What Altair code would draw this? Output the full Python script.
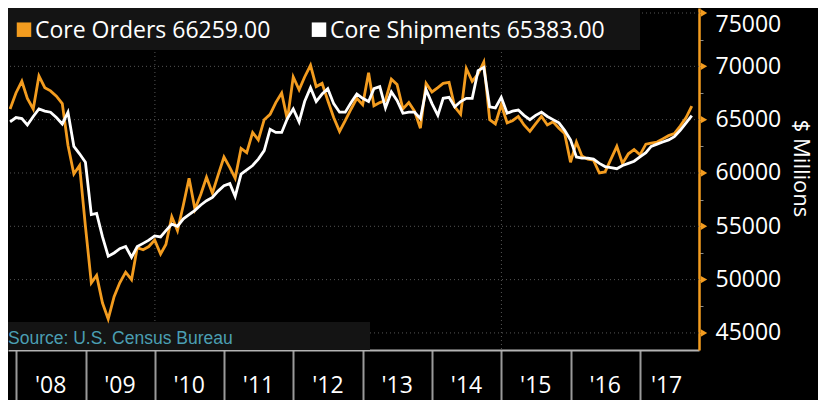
import altair as alt
import pandas as pd

# ---------------- data ----------------
series_names = ["Core Orders", "Core Shipments"]
series_colors = ["#f39c1f", "#ffffff"]
start_month = "2007-11-01"  # monthly values, plotted at month end

orders = [66000, 67500, 68600, 67000, 66000, 69100, 68000, 67700, 67200, 66500,
          62600, 59900, 60700, 55000, 49700, 50400, 47800, 46300, 48400, 49700,
          50700, 50000, 53000, 52800, 53100, 53700, 52400, 53300, 55900, 54600,
          57000, 59500, 56600, 58000, 59600, 58100, 59800, 61500, 60500, 59500,
          62300, 61900, 63800, 63100, 65000, 65500, 66600, 67500, 65000, 69000,
          67800, 69000, 70100, 68100, 68400, 66800, 65200, 63900, 64900, 66000,
          67000, 66400, 69400, 66300, 66600, 66800, 68800, 68300, 66000, 66600,
          65800, 64200, 68400, 67600, 68000, 68400, 68500, 66200, 65500, 69800,
          68600, 69300, 70400, 65000, 64600, 66400, 64700, 64900, 65300, 64500,
          63900, 64600, 65300, 64500, 64800, 64200, 63700, 61000, 62900, 61600,
          61300, 61200, 60000, 60100, 61300, 62500, 60900, 61800, 62200, 61700,
          62700, 62800, 62900, 63200, 63500, 63700, 64400, 65200, 66259]

shipments = [64800, 65200, 65100, 64500, 65300, 66000, 65800, 65700, 65200, 64600,
             65700, 62500, 61800, 61000, 56100, 56200, 54000, 52200, 52500, 52900,
             53100, 52100, 53100, 53400, 53700, 54100, 54000, 54600, 55200, 55000,
             55700, 56100, 56500, 57000, 57400, 57700, 58300, 58800, 59000, 57800,
             59900, 60300, 60700, 61300, 62100, 64100, 63800, 63800, 65100, 66000,
             64800, 66700, 68000, 66700, 67400, 67900, 66500, 65700, 65700, 66600,
             67400, 67000, 66700, 67900, 68100, 66100, 67600, 66800, 65600, 65700,
             65700, 65100, 67800, 66500, 65400, 67000, 67100, 66200, 66700, 67000,
             67000, 69600, 69900, 66200, 66100, 67100, 65600, 65800, 65900, 65400,
             65000, 65400, 65700, 65300, 65000, 64700, 64000, 63100, 61500, 61400,
             61400, 61300, 60900, 60600, 60500, 60400, 60700, 60900, 61100, 61500,
             61900, 62500, 62700, 62900, 63100, 63400, 64000, 64700, 65383]

y_major = [45000, 50000, 55000, 60000, 65000, 70000, 75000]
y_ticks_all = [45000, 47500, 50000, 52500, 55000, 57500, 60000, 62500,
               65000, 67500, 70000, 72500, 75000]
tick_years = [2008, 2009, 2010, 2011, 2012, 2013, 2014, 2015, 2016, 2017]
grid_dates = ["2010-01-01", "2015-01-01"]
year_label_dates = ["2008-07-01", "2009-07-01", "2010-07-01", "2011-07-01",
                    "2012-07-01", "2013-07-01", "2014-07-01", "2015-07-01",
                    "2016-07-01", "2017-05-20"]
year_labels = ["'08", "'09", "'10", "'11", "'12", "'13", "'14", "'15", "'16", "'17"]
source_text = "Source: U.S. Census Bureau"
y_title = "$ Millions"

# ---------------- tables ----------------
dates = pd.date_range(start_month, periods=len(orders), freq="MS") + pd.offsets.MonthEnd(0)
df = pd.DataFrame({"date": dates.strftime("%Y-%m-%d"),
                   "orders": orders, "shipments": shipments})

W, H = 691, 342
FONT = "Open Sans"

x_scale = alt.Scale(type="utc", domain=[
    alt.DateTime(year=2007, month=11, date=19, utc=True),
    alt.DateTime(year=2017, month=11, date=7, utc=True)])
y_scale = alt.Scale(domain=[43400, 75470], nice=False, zero=False)

one = pd.DataFrame({"a": [0]})

x_axis = alt.Axis(
    values=[alt.DateTime(year=y, month=1, date=1, utc=True) for y in tick_years],
    labels=False, title=None, grid=False, orient="bottom",
    domainColor="#b4b4b4", domainWidth=2,
    tickColor="#9a9a9a", tickWidth=2, tickSize=50)

y_axis = alt.Axis(
    orient="right", values=y_ticks_all, format="d",
    labelExpr="datum.value % 5000 == 0 ? datum.label : ''",
    labelColor="white", labelFont=FONT, labelFontSize=23, labelPadding=12,
    labelFlush=10, labelOverlap=False,
    tickColor="#8a8a8a", tickSize=4, tickWidth=1,
    domainColor=series_colors[0], domainWidth=2.5, grid=False,
    title=y_title, titleColor="white", titleFont=FONT, titleFontSize=22,
    titleFontWeight="normal", titlePadding=8, titleAngle=90, titleY=160)


def X(field):
    return alt.X(field, scale=x_scale, axis=x_axis)


def Y(field):
    return alt.Y(field, scale=y_scale, axis=y_axis)


hgrid = alt.Chart(pd.DataFrame({"v": y_major})).mark_rule(
    color="#555555", strokeDash=[1, 3], strokeWidth=1
).encode(y=Y("v:Q"))

vgrid = alt.Chart(pd.DataFrame({"d": grid_dates})).mark_rule(
    color="#555555", strokeDash=[1, 3], strokeWidth=1
).encode(x=X("d:T"))

legend_box = alt.Chart(one).mark_rect(color="#141414").encode(
    x=alt.value(0), x2=alt.value(632), y=alt.value(0), y2=alt.value(42))
source_box = alt.Chart(one).mark_rect(color="#141414").encode(
    x=alt.value(0), x2=alt.value(362), y=alt.value(314), y2=alt.value(H))

orders_line = alt.Chart(df).mark_line(color=series_colors[0], strokeWidth=2.8).encode(
    x=X("date:T"), y=Y("orders:Q"))

ship_line = alt.Chart(df).mark_line(color=series_colors[1], strokeWidth=2.8).encode(
    x=X("date:T"), y=Y("shipments:Q"))

triangles = alt.Chart(pd.DataFrame({"v": y_major})).mark_point(
    shape="triangle-right", filled=True, color=series_colors[0], size=55, opacity=1
).encode(x=alt.value(W + 5), y=Y("v:Q"))

year_text = alt.Chart(pd.DataFrame({"d": year_label_dates, "t": year_labels})).mark_text(
    align="center", baseline="alphabetic", font=FONT, fontSize=23, color="white"
).encode(x=X("d:T"), y=alt.value(H + 43), text="t:N")

legend_items = []
leg_x = [16, 311]
for i, (nm, col, vals) in enumerate(zip(series_names, series_colors, [orders, shipments])):
    legend_items.append(alt.Chart(one).mark_square(size=210, color=col, opacity=1).encode(
        x=alt.value(leg_x[i]), y=alt.value(21.7)))
    legend_items.append(alt.Chart(one).mark_text(
        align="left", baseline="alphabetic", font=FONT, fontSize=23, color="white"
    ).encode(x=alt.value(leg_x[i] + 11), y=alt.value(29.5), text=alt.value(f"{nm} {vals[-1]:.2f}")))

source = alt.Chart(one).mark_text(
    align="left", baseline="alphabetic", font="Liberation Sans", fontSize=17.5, color="#4b9fb3"
).encode(x=alt.value(0), y=alt.value(336), text=alt.value(source_text))

chart = alt.layer(
    hgrid, vgrid, legend_box, source_box, orders_line, ship_line,
    triangles, year_text, source, *legend_items
).properties(
    width=W, height=H, background="#000000",
    padding={"left": 0, "top": 0, "right": 119, "bottom": 50},
    autosize=alt.AutoSizeParams(type="none"),
).configure_view(stroke=None)

chart.save("out.html", embed_options={"renderer": "svg", "actions": False})
